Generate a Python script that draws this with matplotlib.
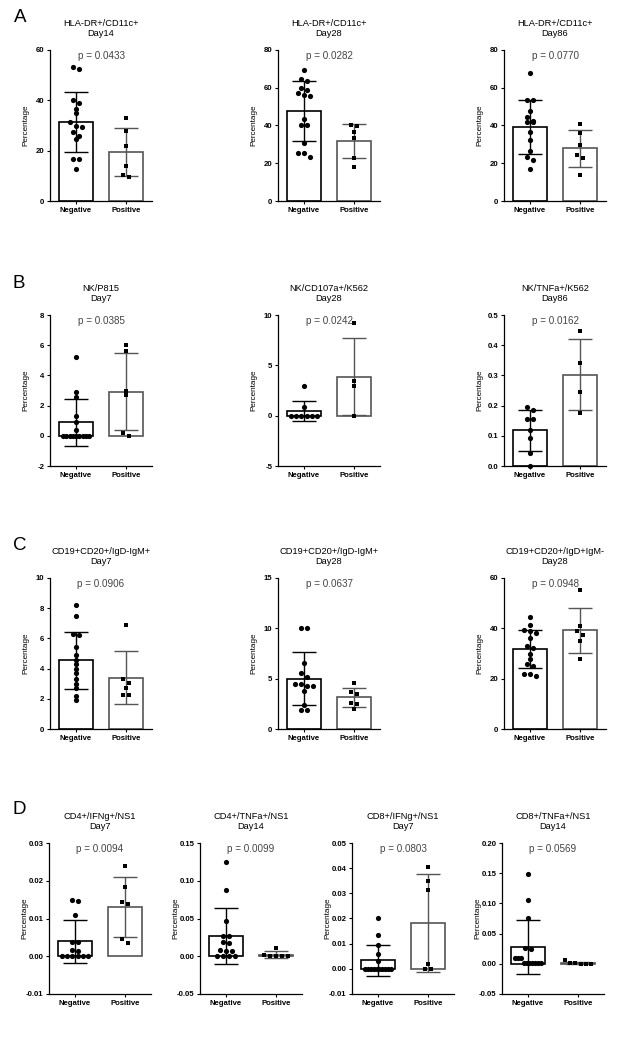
import numpy as np
import matplotlib.pyplot as plt
from matplotlib.ticker import FormatStrFormatter

plt.rcParams['font.family'] = ['Liberation Sans', 'DejaVu Sans']
plt.rcParams['font.weight'] = 'bold'

groups = ['Negative', 'Positive']

# ---- data ----
hla_d14_neg = [53.1, 52.5, 40.3, 38.9, 36.7, 34.9, 31.3, 29.7, 29.6, 27.6, 26.0, 24.7, 16.7, 16.7, 12.9]
hla_d14_pos = [32.9, 27.7, 21.9, 14.1, 10.4, 9.6]
hla_d28_neg = [69.3, 64.9, 63.5, 59.9, 59.0, 57.4, 56.0, 55.6, 43.2, 40.4, 40.0, 30.8, 25.2, 25.2, 23.3]
hla_d28_pos = [40.0, 39.6, 36.8, 33.6, 22.8, 18.1]
hla_d86_neg = [67.7, 53.7, 53.3, 47.5, 44.6, 42.5, 41.6, 41.6, 36.8, 32.4, 26.3, 23.5, 21.7, 16.9]
hla_d86_pos = [40.9, 35.9, 29.5, 24.2, 22.9, 13.7]

nk_p815_neg = [5.2, 2.9, 2.6, 1.3, 0.9, 0.4, 0, 0, 0, 0, 0, 0, 0, 0, 0]
nk_p815_pos = [6.0, 5.6, 3.0, 2.7, 0.2, 0.0]
nk_cd107_neg = [2.9, 0.9, 0, 0, 0, 0, 0, 0]
nk_cd107_pos = [9.2, 3.4, 2.9, 0.0]
nk_tnf_neg = [0.195, 0.184, 0.156, 0.156, 0.118, 0.092, 0.043, 0.0]
nk_tnf_pos = [0.447, 0.341, 0.245, 0.177]

b_igm_d7_neg = [8.2, 7.5, 6.3, 6.2, 5.4, 4.9, 4.6, 4.3, 4.0, 3.7, 3.3, 3.0, 2.7, 2.2, 1.9]
b_igm_d7_pos = [6.86, 3.3, 3.07, 2.7, 2.24, 2.24]
b_igm_d28_neg = [10.0, 10.0, 6.6, 5.6, 5.2, 4.5, 4.5, 4.3, 4.3, 3.8, 2.4, 1.9, 1.9]
b_igm_d28_pos = [4.6, 3.7, 3.49, 2.6, 2.48, 1.99]
b_igd_d28_neg = [44.4, 41.2, 39.3, 39.0, 38.0, 36.0, 33.0, 32.0, 30.0, 28.0, 26.0, 25.0, 22.0, 22.0, 21.0]
b_igd_d28_pos = [55.2, 40.9, 39.0, 37.3, 35.0, 28.0]

cd4_ifng_neg = [0.015, 0.0147, 0.011, 0.0038, 0.0038, 0.0016, 0.0014, 0, 0, 0, 0, 0, 0]
cd4_ifng_pos = [0.0239, 0.0184, 0.0144, 0.0139, 0.0046, 0.0035]
cd4_tnf_neg = [0.1243, 0.0872, 0.0473, 0.0274, 0.0265, 0.019, 0.0177, 0.008, 0.0066, 0.0066, 0, 0, 0, 0]
cd4_tnf_pos = [0.011, 0.001, 0.0005, 0.0005, 0.0002, 0.0]
cd8_ifng_neg = [0.02, 0.0134, 0.0094, 0.0057, 0.0033, 0, 0, 0, 0, 0, 0, 0, 0, 0, 0]
cd8_ifng_pos = [0.0405, 0.0348, 0.0315, 0.0021, 0.0, 0.0]
cd8_tnf_neg = [0.148, 0.105, 0.0755, 0.0259, 0.0253, 0.0094, 0.0094, 0.0094,
               0.002, 0.002, 0.002, 0.002, 0.002, 0.002, 0.002]
cd8_tnf_pos = [0.0055, 0.0005, 0.0005, 0.0, 0.0, 0.0]

panels = [
    ('HLA-DR+/CD11c+\nDay14', 'p = 0.0433', hla_d14_neg, hla_d14_pos, np.arange(0, 61, 20), '%d'),
    ('HLA-DR+/CD11c+\nDay28', 'p = 0.0282', hla_d28_neg, hla_d28_pos, np.arange(0, 81, 20), '%d'),
    ('HLA-DR+/CD11c+\nDay86', 'p = 0.0770', hla_d86_neg, hla_d86_pos, np.arange(0, 81, 20), '%d'),
    ('NK/P815\nDay7', 'p = 0.0385', nk_p815_neg, nk_p815_pos, np.arange(-2, 9, 2), '%d'),
    ('NK/CD107a+/K562\nDay28', 'p = 0.0242', nk_cd107_neg, nk_cd107_pos, np.arange(-5, 11, 5), '%d'),
    ('NK/TNFa+/K562\nDay86', 'p = 0.0162', nk_tnf_neg, nk_tnf_pos, np.linspace(0, 0.5, 6), '%.1f'),
    ('CD19+CD20+/IgD-IgM+\nDay7', 'p = 0.0906', b_igm_d7_neg, b_igm_d7_pos, np.arange(0, 11, 2), '%d'),
    ('CD19+CD20+/IgD-IgM+\nDay28', 'p = 0.0637', b_igm_d28_neg, b_igm_d28_pos, np.arange(0, 16, 5), '%d'),
    ('CD19+CD20+/IgD+IgM-\nDay28', 'p = 0.0948', b_igd_d28_neg, b_igd_d28_pos, np.arange(0, 61, 20), '%d'),
    ('CD4+/IFNg+/NS1\nDay7', 'p = 0.0094', cd4_ifng_neg, cd4_ifng_pos, np.linspace(-0.01, 0.03, 5), '%.2f'),
    ('CD4+/TNFa+/NS1\nDay14', 'p = 0.0099', cd4_tnf_neg, cd4_tnf_pos, np.linspace(-0.05, 0.15, 5), '%.2f'),
    ('CD8+/IFNg+/NS1\nDay7', 'p = 0.0803', cd8_ifng_neg, cd8_ifng_pos, np.linspace(-0.01, 0.05, 7), '%.2f'),
    ('CD8+/TNFa+/NS1\nDay14', 'p = 0.0569', cd8_tnf_neg, cd8_tnf_pos, np.linspace(-0.05, 0.20, 6), '%.2f'),
]

# ---- layout in pixels ----
W, H = 641, 1050
AX_W, AX_H = 102, 151
boxes = [(l, t) for t in (50, 315, 578) for l in (50, 278, 504)]
boxes += [(l, 843) for l in (49, 200, 352, 502)]
letters = [('A', 20, 17), ('B', 19, 283), ('C', 20, 545), ('D', 19, 810)]

XMIN, XMAX = -0.52, 1.52
BAR_W = 0.67
colors = ['black', '#555555']
markers = ['o', 's']
msizes = [14, 11]


def swarm(vals, py, d=5.8, maxw=26.0, tol=4.5):
    """beeswarm-ish x offsets in pixels"""
    vals = np.asarray(vals, float)
    order = np.argsort(-vals, kind='stable')
    bins, cur = [], []
    for i in order:
        if cur and (vals[cur[0]] - vals[i]) * py > tol:
            bins.append(cur)
            cur = []
        cur.append(i)
    bins.append(cur)
    off = np.zeros(len(vals))
    for b in bins:
        k = len(b)
        if k < 2:
            continue
        step = min(d, maxw / (k - 1))
        for j, i in enumerate(b):
            off[i] = (j - (k - 1) / 2) * step
    return off


fig = plt.figure(figsize=(W / 100, H / 100), dpi=100)

for (title, ptxt, neg, pos, yt, fmt), (l, t) in zip(panels, boxes):
    ax = fig.add_axes([l / W, 1 - (t + AX_H) / H, AX_W / W, AX_H / H])
    ymin, ymax = yt[0], yt[-1]
    ax.set_xlim(XMIN, XMAX)
    ax.set_ylim(ymin, ymax)
    py = AX_H / (ymax - ymin)
    px = AX_W / (XMAX - XMIN)

    for k, vals in enumerate([neg, pos]):
        vals = np.asarray(vals, float)
        m = vals.mean()
        sd = vals.std(ddof=1)
        ax.bar(k, m, width=BAR_W, facecolor='white', edgecolor=colors[k], linewidth=1.2, zorder=1)
        ax.errorbar(k, m, yerr=sd, color=colors[k], capsize=8.5, elinewidth=1.0,
                    capthick=1.0, zorder=2)
        xs = k + swarm(vals, py) / px
        ax.scatter(xs, vals, s=msizes[k], marker=markers[k], color='black',
                   linewidths=0, zorder=3, clip_on=False)

    ax.set_xticks([0, 1])
    ax.set_xticklabels(groups)
    ax.set_yticks(yt)
    ax.yaxis.set_major_formatter(FormatStrFormatter(fmt))
    ax.tick_params(labelsize=5.6, length=2.5, width=0.8, pad=1.5)
    for s in ('top', 'right'):
        ax.spines[s].set_visible(False)
    for s in ('left', 'bottom'):
        ax.spines[s].set_linewidth(0.9)
    ax.set_ylabel('Percentage', fontsize=5.9)
    ax.yaxis.set_label_coords(-0.2, 0.5)
    ax.set_title(title, fontsize=6.7, pad=10, linespacing=1.15)
    ax.text(0.5, 0.96, ptxt, transform=ax.transAxes, ha='center', va='center',
            fontsize=7.1, fontweight='normal', color='#444444')

for lab, x, y in letters:
    fig.text(x / W, 1 - y / H, lab, fontsize=13.5, fontweight='normal',
             ha='center', va='center')

fig.savefig('out.png', dpi=100)
